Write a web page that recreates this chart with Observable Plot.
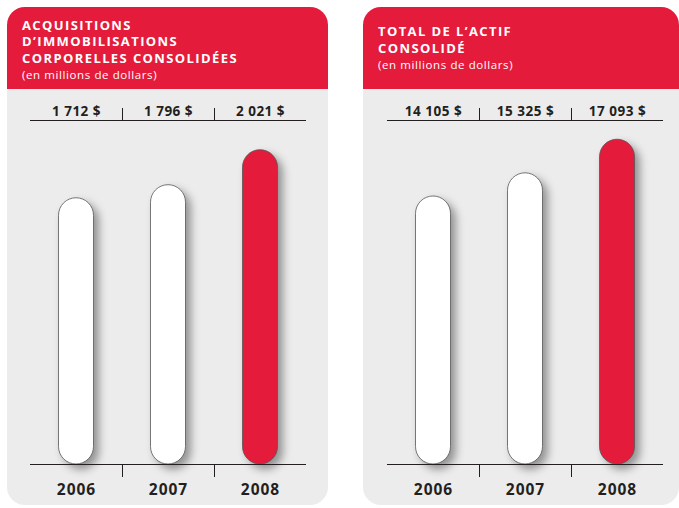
<!DOCTYPE html>
<html><head><meta charset="utf-8">
<script src="https://cdn.jsdelivr.net/npm/d3@7"></script>
<script src="https://cdn.jsdelivr.net/npm/@observablehq/plot@0.6"></script>
<style>
body{margin:0;background:#fff;}
#root{position:relative;width:679px;height:508px;overflow:hidden;font-family:"Open Sans",sans-serif;}
.panel{position:absolute;top:7px;height:498px;background:#ececec;border-radius:18px;overflow:hidden;}
.head{position:absolute;left:0;top:0;right:0;height:82px;background:#e41b3b;}
.title{position:absolute;color:#fff;font-weight:700;font-size:13px;letter-spacing:1.4px;line-height:16.2px;white-space:nowrap;}
.sub{font-weight:400;font-size:11.5px;letter-spacing:0.6px;}
.chart{position:absolute;top:82px;left:0;}
g[aria-label="rect"] rect{filter:drop-shadow(5px 5px 4px rgba(0,0,0,0.38));}
</style></head>
<body>
<div id="root">
  <div class="panel" id="p1" style="left:7px;width:321px;">
    <div class="head"><div class="title" style="left:15px;top:10.2px;">ACQUISITIONS<br>D’IMMOBILISATIONS<br>CORPORELLES CONSOLIDÉES<br><span class="sub">(en millions de dollars)</span></div></div>
    <div class="chart" id="c1"></div>
  </div>
  <div class="panel" id="p2" style="left:363px;width:316px;">
    <div class="head"><div class="title" style="left:15px;top:16.4px;">TOTAL DE L’ACTIF<br>CONSOLIDÉ<br><span class="sub">(en millions de dollars)</span></div></div>
    <div class="chart" id="c2"></div>
  </div>
</div>
<script>
// ---- data ----
const years = [2006, 2007, 2008];
const acquisitions = [1712, 1796, 2021];
const totalActif = [14105, 15325, 17093];
const highlightYear = 2008;
const acqMax = 2212;     // top of value scale (estimated)
const actifMax = 18105;  // top of value scale (estimated)

const RED = "#e41b3b";
const INK = "#231f20";
const fr = d3.formatLocale({decimal: ",", thousands: "\u00a0", grouping: [3], currency: ["", "\u00a0$"]});
const fmt = fr.format("$,.0f");

function chart(values, yMax, width, mLeft, mRight) {
  const data = years.map((y, i) => ({year: y, value: values[i]}));
  const seps = years.slice(1).map(y => y - 0.5);
  return Plot.plot({
    width, height: 416,
    marginLeft: mLeft, marginRight: mRight, marginTop: 31, marginBottom: 41,
    style: {background: "transparent", overflow: "visible", fontFamily: "'Open Sans', sans-serif", color: INK},
    x: {type: "linear", domain: [years[0] - 0.5, years[years.length - 1] + 0.5], label: null},
    y: {domain: [0, yMax], axis: null, label: null},
    color: {type: "identity"},
    marks: [
      Plot.rectY(data, {
        x1: d => d.year - 0.5, x2: d => d.year + 0.5, y: "value",
        insetLeft: 28.5, insetRight: 28.5, rx: 17.5,
        fill: d => d.year === highlightYear ? RED : "white",
        stroke: "#555", strokeWidth: 0.8
      }),
      Plot.ruleY([0, yMax], {stroke: INK, strokeWidth: 1}),
      Plot.axisX({anchor: "bottom", ticks: seps, tickSize: 13, tickFormat: () => "", stroke: INK, label: null}),
      Plot.axisX({anchor: "top", ticks: seps, tickSize: 13, tickFormat: () => "", stroke: INK, label: null}),
      Plot.axisX({anchor: "bottom", ticks: years, tickSize: 0, tickPadding: 19, tickFormat: d => String(d),
        fontSize: 15.5, fontWeight: 700, fill: INK, label: null}),
      Plot.text(data, {x: "year", text: d => fmt(d.value), frameAnchor: "top", lineAnchor: "bottom", dy: -5,
        fontSize: 13.5, fontWeight: 700, fill: INK})
    ]
  });
}

document.getElementById("c1").append(chart(acquisitions, acqMax, 321, 23, 22));
document.getElementById("c2").append(chart(totalActif, actifMax, 316, 24, 16));
</script>
<style>
g[aria-label="x-axis tick label"] text{letter-spacing:1px;}
g[aria-label="text"] text{letter-spacing:0.5px;}
</style>
</body></html>
